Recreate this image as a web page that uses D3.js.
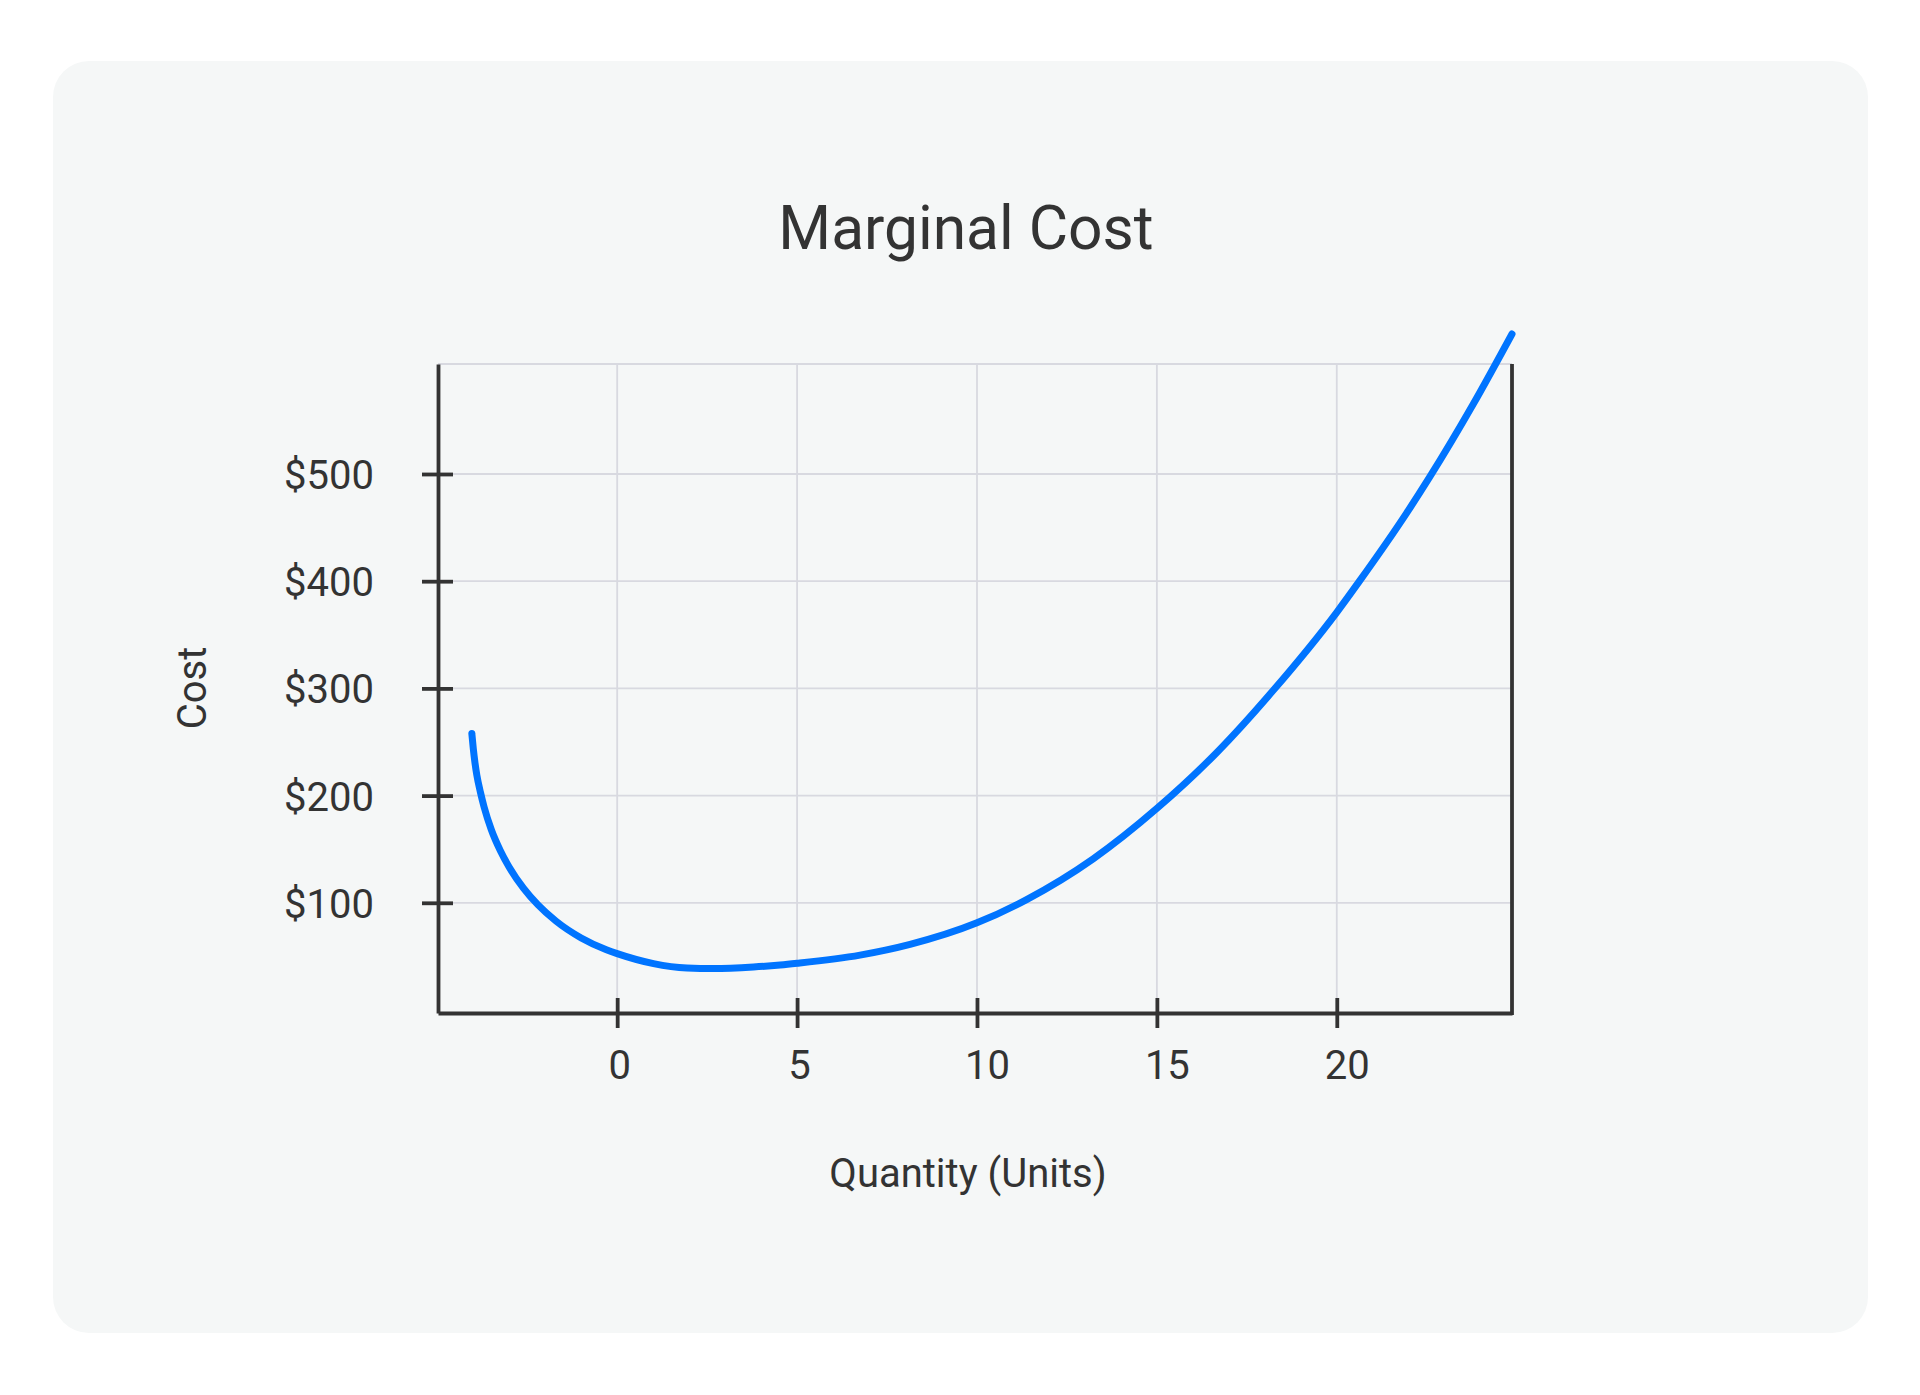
<!DOCTYPE html>
<html>
<head>
<meta charset="utf-8">
<script src="https://cdn.jsdelivr.net/npm/d3@7"></script>
<style>
  body { margin: 0; background: #ffffff; }
  svg text { font-family: Roboto, "Noto Sans", "DejaVu Sans", sans-serif; fill: #333333; }
</style>
</head>
<body>
<svg id="chart" width="1920" height="1395"></svg>
<script>
// ---- data ----
const chartTitle = "Marginal Cost";
const xAxisTitle = "Quantity (Units)";
const yAxisTitle = "Cost";
const quantity = [-4.04, -4.0, -3.95, -3.9, -3.8, -3.7, -3.5, -3.25, -3.0, -2.6, -2.2, -1.7, -1.0, -0.3, 0, 1.01, 1.94, 2.68, 3.79, 4.53,
                  5, 6.75, 8.14, 10, 11.38, 13.23, 15, 16.66, 18.23, 20, 20.64, 21.94, 22.58, 23.79, 24.87];
const marginalCost = [258, 244, 230, 219, 203, 189.5, 168.4, 148.8, 133.2, 113.4, 98, 82.9, 67.2, 56.2, 52.6, 43.3, 39.2, 38.6, 40.1, 42,
                      43.6, 51.2, 61.2, 81.3, 103, 141, 188, 240, 298, 371, 400.5, 463.5, 497, 565, 630.6];
const xTickValues = [0, 5, 10, 15, 20];
const yTickValues = [100, 200, 300, 400, 500];
const xDomain = [-4.98, 24.87];
const yDomain = [-2.8, 602.6];

// ---- layout ----
const plot = { left: 438, right: 1512, top: 364, bottom: 1013 };
const axisColor = "#333333";
const axisWidth = 3.8;
const svg = d3.select("#chart");

svg.append("rect")
  .attr("x", 53).attr("y", 61)
  .attr("width", 1815).attr("height", 1272)
  .attr("rx", 36).attr("ry", 36)
  .attr("fill", "#f5f7f7");

const x = d3.scaleLinear().domain(xDomain).range([plot.left, plot.right]);
const y = d3.scaleLinear().domain(yDomain).range([plot.bottom, plot.top]);

// grid
const grid = svg.append("g").attr("stroke", "#d8d9e0").attr("stroke-width", 1.8);
grid.selectAll("line.v").data(xTickValues).join("line")
  .attr("class", "v")
  .attr("x1", d => x(d)).attr("x2", d => x(d))
  .attr("y1", plot.top).attr("y2", plot.bottom);
grid.selectAll("line.h").data(yTickValues).join("line")
  .attr("class", "h")
  .attr("x1", plot.left).attr("x2", plot.right)
  .attr("y1", d => y(d)).attr("y2", d => y(d));
grid.append("line")
  .attr("x1", plot.left).attr("x2", plot.right)
  .attr("y1", plot.top).attr("y2", plot.top);

// right frame
svg.append("line")
  .attr("x1", plot.right).attr("x2", plot.right)
  .attr("y1", plot.top).attr("y2", plot.bottom + axisWidth / 2)
  .attr("stroke", axisColor).attr("stroke-width", axisWidth);

// x axis
const xAxis = svg.append("g")
  .attr("transform", `translate(0,${plot.bottom})`)
  .call(d3.axisBottom(x).tickValues(xTickValues).tickSize(15).tickSizeOuter(0).tickFormat(d3.format("d")));
xAxis.attr("font-family", null).attr("font-size", null);
xAxis.select(".domain").attr("stroke", axisColor).attr("stroke-width", axisWidth);
xAxis.selectAll(".tick line").attr("y1", -15).attr("y2", 15).attr("stroke", axisColor).attr("stroke-width", axisWidth);
xAxis.selectAll(".tick text")
  .attr("y", 65.5).attr("dy", 0)
  .attr("dx", function () { return this.textContent.length > 1 ? 10 : 2; })
  .attr("font-size", 40).attr("fill", axisColor);

// y axis
const yAxis = svg.append("g")
  .attr("transform", `translate(${plot.left},0)`)
  .call(d3.axisLeft(y).tickValues(yTickValues).tickSize(16).tickSizeOuter(0).tickFormat(d => "$" + d));
yAxis.attr("font-family", null).attr("font-size", null);
yAxis.select(".domain").attr("stroke", axisColor).attr("stroke-width", axisWidth);
yAxis.selectAll(".tick line").attr("x1", -16).attr("x2", 15).attr("stroke", axisColor).attr("stroke-width", axisWidth);
yAxis.selectAll(".tick text")
  .attr("x", -64).attr("dy", 0).attr("y", 14.5)
  .attr("font-size", 40).attr("fill", axisColor)
  .attr("text-anchor", "end");

// curve
const line = d3.line()
  .x((d, i) => x(quantity[i]))
  .y(d => y(d))
  .curve(d3.curveMonotoneX);
svg.append("path")
  .datum(marginalCost)
  .attr("d", line)
  .attr("fill", "none")
  .attr("stroke", "#0074ff")
  .attr("stroke-width", 7)
  .attr("stroke-linecap", "round")
  .attr("stroke-linejoin", "round");

// titles
svg.append("text")
  .attr("x", 966).attr("y", 249)
  .attr("text-anchor", "middle")
  .attr("font-size", 60.5)
  .text(chartTitle);
svg.append("text")
  .attr("x", 968).attr("y", 1187)
  .attr("text-anchor", "middle")
  .attr("font-size", 40)
  .text(xAxisTitle);
svg.append("text")
  .attr("transform", "translate(206,688) rotate(-90)")
  .attr("text-anchor", "middle")
  .attr("font-size", 40)
  .text(yAxisTitle);
</script>
</body>
</html>
